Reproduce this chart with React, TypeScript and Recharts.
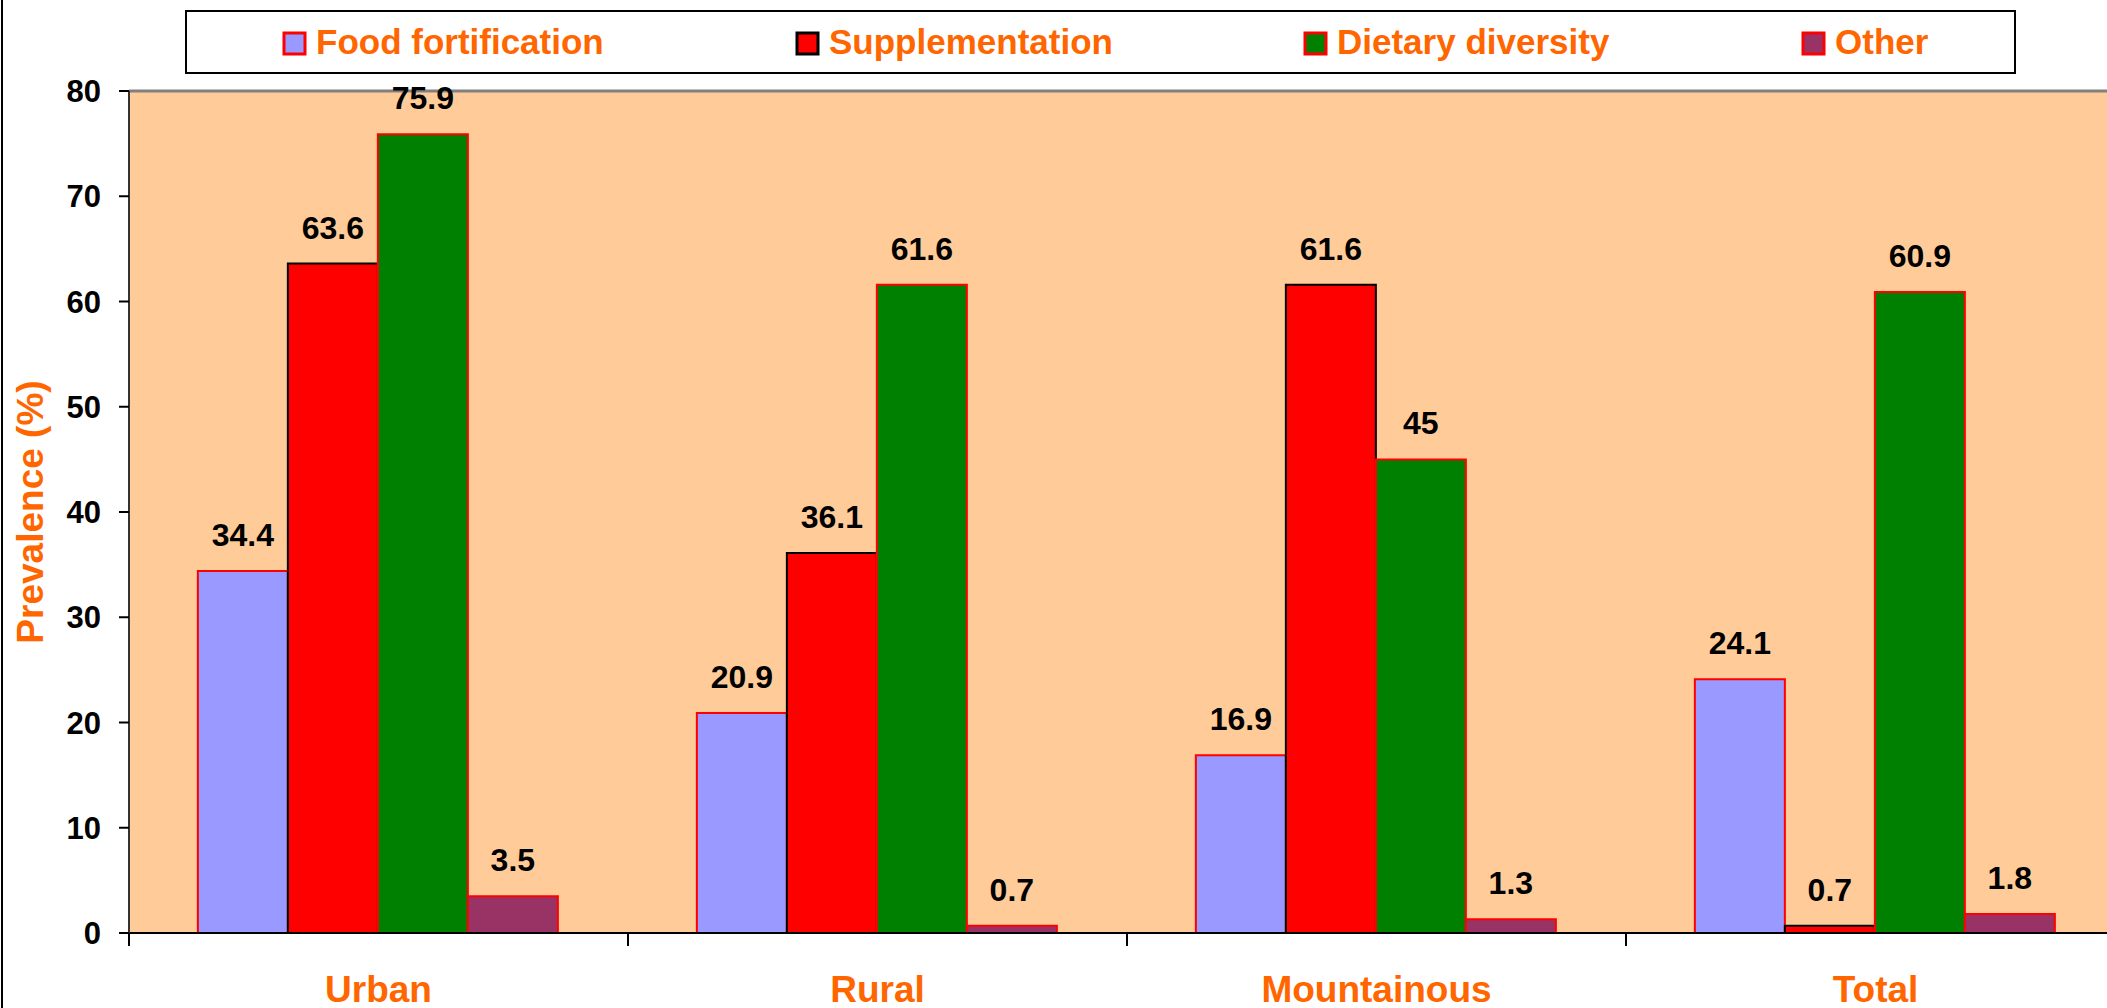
import React from 'react';
import { BarChart, Bar, XAxis, YAxis, CartesianGrid, ReferenceLine, Legend, LabelList } from 'recharts';

const categories = ['Urban', 'Rural', 'Mountainous', 'Total'];
const foodFortification = [34.4, 20.9, 16.9, 24.1];
const supplementation = [63.6, 36.1, 61.6, 0.7];
const dietaryDiversity = [75.9, 61.6, 45, 60.9];
const other = [3.5, 0.7, 1.3, 1.8];
const yTicks = [0, 10, 20, 30, 40, 50, 60, 70, 80];

const seriesNames = ['Food fortification', 'Supplementation', 'Dietary diversity', 'Other'];

const data = categories.map((name, i) => ({
  name,
  food: foodFortification[i],
  supp: supplementation[i],
  diet: dietaryDiversity[i],
  other: other[i],
}));

const series = [
  { key: 'food', name: seriesNames[0], fill: '#9999FF', stroke: '#FF0000' },
  { key: 'supp', name: seriesNames[1], fill: '#FF0000', stroke: '#000000' },
  { key: 'diet', name: seriesNames[2], fill: '#008000', stroke: '#FF0000' },
  { key: 'other', name: seriesNames[3], fill: '#993366', stroke: '#FF0000' },
];

const FONT = '"Liberation Sans", Arial, sans-serif';
const ORANGE = '#FF6600';
const CHART_W = 2130;
const CHART_H = 1008;
const MARGIN = { top: 91, right: 5, left: 0, bottom: 0 };
const YAXIS_W = 129;
const XAXIS_H = 75;
const HALF_BAND = (CHART_W - MARGIN.left - MARGIN.right - YAXIS_W) / categories.length / 2;

const legendOffsets = [99, 612, 1120, 1618];

const CategoryTick = (props: any) => {
  const { x, y, payload } = props;
  return (
    <g>
      <line x1={x - HALF_BAND} x2={x - HALF_BAND} y1={y} y2={y + 13} stroke="#000" strokeWidth={2} />
      <line x1={x + HALF_BAND} x2={x + HALF_BAND} y1={y} y2={y + 13} stroke="#000" strokeWidth={2} />
      <text
        x={x}
        y={y + 56}
        textAnchor="middle"
        dominantBaseline="central"
        fill={ORANGE}
        fontFamily={FONT}
        fontWeight="bold"
        fontSize={37}
      >
        {payload.value}
      </text>
    </g>
  );
};

const ValueLabel = (props: any) => {
  const { x, y, width, value } = props;
  return (
    <text
      x={x + width / 2}
      y={y - 36}
      textAnchor="middle"
      dominantBaseline="central"
      fill="#000"
      fontFamily={FONT}
      fontWeight="bold"
      fontSize={32}
    >
      {value}
    </text>
  );
};

const LegendContent = () => (
  <svg width={1831} height={64} style={{ display: 'block' }}>
    <rect x={1} y={1} width={1829} height={62} fill="#fff" stroke="#000" strokeWidth={2} />
    {series.map((s, i) => (
      <g key={s.key}>
        <rect x={legendOffsets[i]} y={23} width={21} height={21} fill={s.fill} stroke={s.stroke} strokeWidth={3} />
        <text
          x={legendOffsets[i] + 32}
          y={44}
          fill={ORANGE}
          fontFamily={FONT}
          fontWeight="bold"
          fontSize={35}
        >
          {s.name}
        </text>
      </g>
    ))}
  </svg>
);

const YLabel = (props: any) => {
  const vb = props.viewBox || {};
  const cy = (vb.y || 0) + (vb.height || 0) / 2;
  return (
    <text
      x={30}
      y={cy}
      transform={`rotate(-90 30 ${cy})`}
      textAnchor="middle"
      dominantBaseline="central"
      fill={ORANGE}
      fontFamily={FONT}
      fontWeight="bold"
      fontSize={37}
    >
      Prevalence (%)
    </text>
  );
};

export default function App() {
  return (
    <div
      style={{
        position: 'absolute',
        left: 0,
        top: 0,
        width: 2107,
        height: 1008,
        overflow: 'hidden',
        background: '#fff',
      }}
    >
      <div style={{ position: 'absolute', left: 1, top: 0, width: 2, height: 1008, background: '#000' }} />
      <BarChart
        width={CHART_W}
        height={CHART_H}
        data={data}
        margin={MARGIN}
        barCategoryGap="13.8%"
        barGap={0}
      >
        <CartesianGrid fill="#FFCC99" horizontal={false} vertical={false} />
        <ReferenceLine y={80} stroke="#808080" strokeWidth={3} />
        <XAxis
          dataKey="name"
          height={XAXIS_H}
          axisLine={{ stroke: '#000', strokeWidth: 2 }}
          tickLine={false}
          tickSize={0}
          tickMargin={0}
          tick={<CategoryTick />}
          interval={0}
        />
        <YAxis
          width={YAXIS_W}
          domain={[0, 80]}
          ticks={yTicks}
          interval={0}
          axisLine={{ stroke: '#333', strokeWidth: 2 }}
          tickLine={{ stroke: '#000', strokeWidth: 2 }}
          tickSize={10}
          tickMargin={18}
          tick={{ fill: '#000', fontSize: 31, fontWeight: 'bold', fontFamily: FONT }}
          label={<YLabel />}
        />
        <Legend
          layout="horizontal"
          verticalAlign="middle"
          align="center"
          content={<LegendContent />}
          wrapperStyle={{ position: 'absolute', left: 185, top: 10, width: 1831, height: 64 }}
        />
        {series.map((s) => (
          <Bar
            key={s.key}
            dataKey={s.key}
            name={s.name}
            fill={s.fill}
            stroke={s.stroke}
            strokeWidth={2}
            isAnimationActive={false}
          >
            <LabelList dataKey={s.key} content={<ValueLabel />} />
          </Bar>
        ))}
      </BarChart>
    </div>
  );
}
